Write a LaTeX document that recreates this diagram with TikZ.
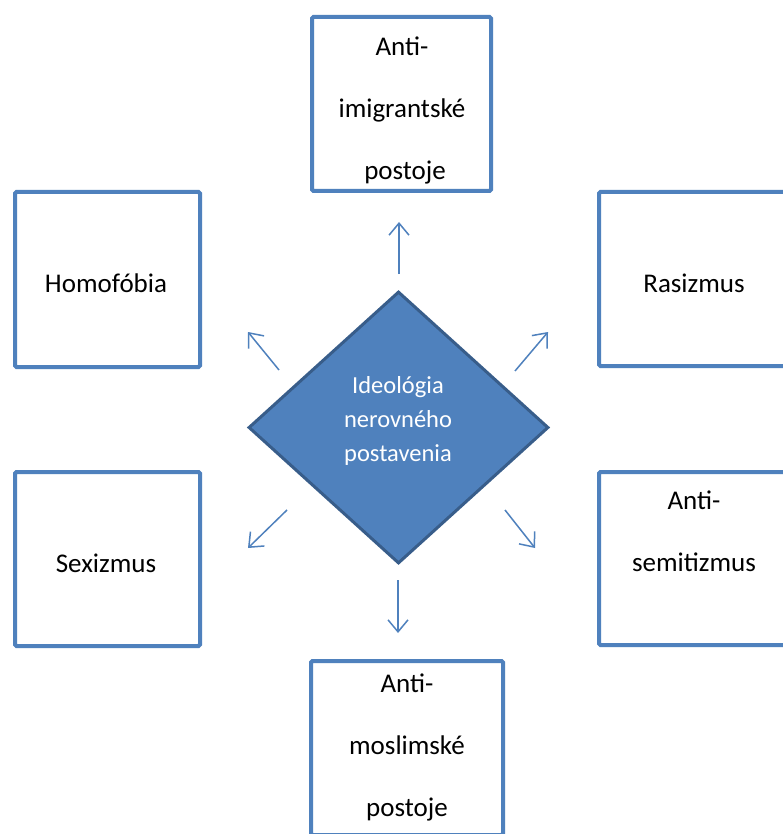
\documentclass[tikz,border=0pt]{standalone}
\usepackage{fontspec}
\setmainfont{Carlito}
\usetikzlibrary{arrows.meta,shapes.geometric}
\definecolor{accent}{HTML}{4F81BD}
\definecolor{accentdark}{HTML}{385D8A}
\begin{document}
\begin{tikzpicture}[x=1pt,y=-1pt,
  box/.style={draw=accent, line width=4pt, fill=white, rounded corners=1.5pt, inner sep=0pt},
  lbl/.style={align=center, font=\fontsize{27}{62}\selectfont, text=black, inner sep=0pt},
  dlbl/.style={align=center, font=\fontsize{24.5}{34}\selectfont, text=white, inner sep=0pt},
  dia/.style={diamond, draw=accentdark, line width=3pt, fill=accent, inner sep=0pt},
  arr/.style={draw=accent, line width=1.5pt, -{Straight Barb[length=12pt,width=20pt,line width=1.5pt]}}]
\useasboundingbox (0,0) rectangle (783,834);
\clip (0,0) rectangle (783,834);
\fill[white] (0,0) rectangle (783,834);

% boxes
\node[box, minimum width=179pt, minimum height=174pt] (top) at (401.5,104) {};
\node[box, minimum width=185pt, minimum height=175pt] (hom) at (107.5,279.5) {};
\node[box, minimum width=187pt, minimum height=174pt] (ras) at (692.5,279) {};
\node[box, minimum width=185pt, minimum height=174pt] (sex) at (107.5,559) {};
\node[box, minimum width=187pt, minimum height=173pt] (sem) at (692.5,558.5) {};
\node[box, minimum width=192pt, minimum height=174pt] (bot) at (407,748) {};

% labels
\node[lbl] (ltop) at (402,110) {Anti-\\imigrantské\\\ postoje};
\node[lbl] (lhom) at (106,283) {Homofóbia};
\node[lbl] (lras) at (694,283) {Rasizmus};
\node[lbl] (lsex) at (106,563) {Sexizmus};
\node[lbl] (lsem) at (694,531.5) {Anti-\\semitizmus};
\node[lbl] (lbot) at (407,747) {Anti-\\moslimské\\postoje};

% diamond
\node[dia, minimum width=300pt, minimum height=272pt] (d) at (398.5,427.5) {};
\node[dlbl] (ld) at (398,421) {Ideológia\\nerovného\\postavenia};

% arrow end points
\coordinate (t1) at (399,274); \coordinate (h1) at (399,222);
\coordinate (t2) at (279,370); \coordinate (h2) at (248,332);
\coordinate (t3) at (515,371); \coordinate (h3) at (548,332);
\coordinate (t4) at (287,510); \coordinate (h4) at (248,548);
\coordinate (t5) at (505,510); \coordinate (h5) at (535,548);
\coordinate (t6) at (398,580); \coordinate (h6) at (398,633);

\draw[arr] (t1) -- (h1);
\draw[arr] (t2) -- (h2);
\draw[arr] (t3) -- (h3);
\draw[arr] (t4) -- (h4);
\draw[arr] (t5) -- (h5);
\draw[arr] (t6) -- (h6);
\end{tikzpicture}
\end{document}
